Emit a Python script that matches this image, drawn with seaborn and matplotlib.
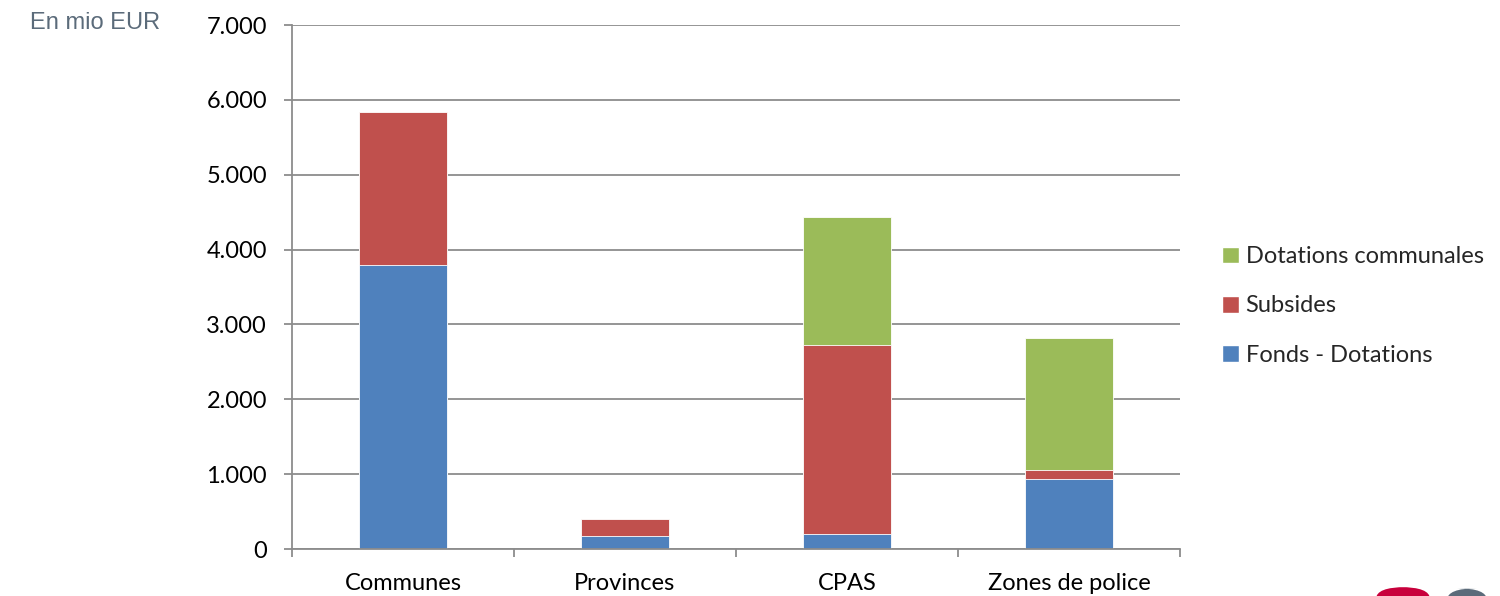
import matplotlib.pyplot as plt
import matplotlib.ticker as mticker
from matplotlib.patches import Patch, FancyBboxPatch
import numpy as np
import pandas as pd
import seaborn as sns

categories = ["Communes", "Provinces", "CPAS", "Zones de police"]
fonds_dotations = [3800, 170, 200, 940]
subsides = [2040, 230, 2520, 115]
dotations_communales = [0, 0, 1710, 1770]

blue = "#4F81BD"
red = "#C0504D"
green = "#9BBB59"

df = pd.DataFrame({
    "cat": categories,
    "fonds": fonds_dotations,
    "subs": subsides,
    "dot": dotations_communales,
})
df["lvl1"] = df["fonds"]
df["lvl2"] = df["fonds"] + df["subs"]
df["lvl3"] = df["lvl2"] + df["dot"]

sns.set_style("white")
plt.rcParams["font.family"] = ["Lato", "DejaVu Sans"]

fig = plt.figure(figsize=(15, 5.96), dpi=100)
ax = fig.add_axes([292 / 1500, 1 - 549 / 596, (1180 - 292) / 1500, (549 - 25) / 596])

# stacked bars drawn as overlapping cumulative totals
sns.barplot(data=df, x="cat", y="lvl3", color=green, width=0.4, saturation=1, ax=ax,
            edgecolor="white", linewidth=0.6)
sns.barplot(data=df, x="cat", y="lvl2", color=red, width=0.4, saturation=1, ax=ax,
            edgecolor="white", linewidth=0.6)
sns.barplot(data=df, x="cat", y="lvl1", color=blue, width=0.4, saturation=1, ax=ax,
            edgecolor="white", linewidth=0.6)

ax.set_ylim(0, 7000)
ax.set_xlim(-0.5, 3.5)
ax.set_yticks(np.arange(0, 7001, 1000))
ax.yaxis.set_major_formatter(mticker.FuncFormatter(lambda v, p: f"{int(v):,}".replace(",", ".")))
ax.set_xlabel("")
ax.set_ylabel("")

ax.set_axisbelow(True)
ax.yaxis.grid(True, color="#8c8c8c", linewidth=1.3)
ax.xaxis.grid(False)
for s in ["top", "right"]:
    ax.spines[s].set_visible(False)
for s in ["left", "bottom"]:
    ax.spines[s].set_color("#8c8c8c")
    ax.spines[s].set_linewidth(1.3)

ax.tick_params(axis="y", which="major", length=6, width=1.3, color="#8c8c8c",
               direction="out", left=True, labelsize=17, labelcolor="black", pad=12)
ax.set_xticks([0, 1, 2, 3])
ax.set_xticklabels(categories)
ax.tick_params(axis="x", which="major", length=0, labelsize=17, labelcolor="black", pad=17)
ax.xaxis.set_minor_locator(mticker.FixedLocator([-0.5, 0.5, 1.5, 2.5, 3.5]))
ax.tick_params(axis="x", which="minor", length=6, width=1.3, color="#8c8c8c",
               direction="out", bottom=True)

fig.text(30 / 1500, 1 - 23 / 596, "En mio EUR", family=["Liberation Sans"], fontsize=17,
         color="#5b6b7a", va="center", ha="left")

handles = [Patch(facecolor=green, label="Dotations communales"),
           Patch(facecolor=red, label="Subsides"),
           Patch(facecolor=blue, label="Fonds - Dotations")]
fig.legend(handles=handles, loc="center left", bbox_to_anchor=(1222 / 1500, 1 - 306 / 596),
           frameon=False, fontsize=17, handlelength=0.7, handleheight=0.7,
           handletextpad=0.3, labelspacing=1.2, borderpad=0, borderaxespad=0)

# logo fragments at bottom right
fig.patches.append(FancyBboxPatch((1376 / 1500, -0.06), 54 / 1500, 0.075,
                                  boxstyle="round,pad=0,rounding_size=0.02",
                                  transform=fig.transFigure, facecolor="#c8003c",
                                  edgecolor="none"))
fig.patches.append(FancyBboxPatch((1447 / 1500, -0.06), 40 / 1500, 0.073,
                                  boxstyle="round,pad=0,rounding_size=0.02",
                                  transform=fig.transFigure, facecolor="#5b6b7a",
                                  edgecolor="none"))

fig.savefig("out.png", dpi=100)
